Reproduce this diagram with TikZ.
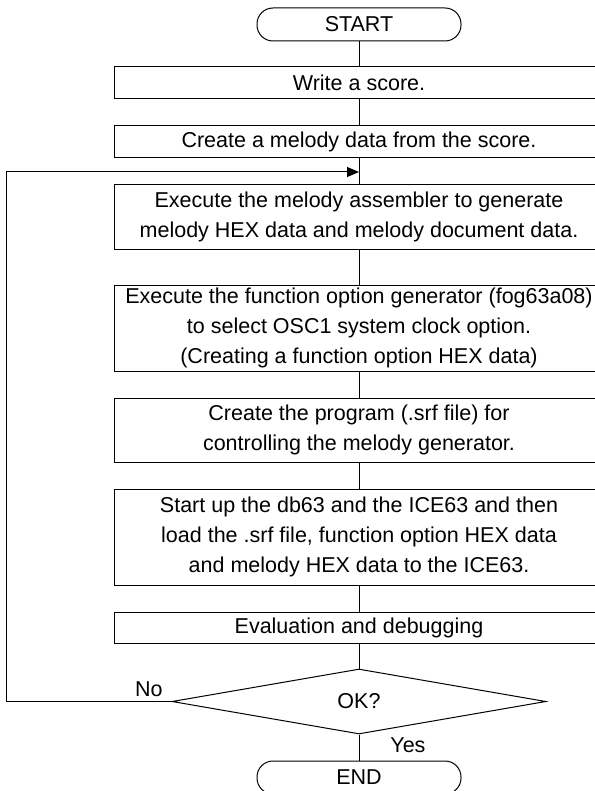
\documentclass[tikz,border=0pt]{standalone}
\usepackage{fontspec}
\setmainfont{Liberation Sans}
\usetikzlibrary{shapes.geometric,arrows.meta}

\begin{document}
\begin{tikzpicture}[x=0.5pt,y=-0.5pt,
  every node/.style={font=\fontsize{10.75}{15}\selectfont, align=center, inner sep=0pt},
  terminal/.style={draw, line width=0.5pt, rounded corners=8pt, minimum width=102pt, minimum height=16.5pt},
  process/.style={draw, line width=0.5pt, minimum width=245pt},
  decision/.style={draw, line width=0.5pt, diamond, aspect=5.75, minimum width=187pt, minimum height=32.5pt},
  flow/.style={line width=0.5pt},
  loopback/.style={line width=0.5pt, -{Triangle[length=6pt,width=5pt]}}]

  \useasboundingbox (0,0) rectangle (594,791);

  \node[terminal] (start) at (359,24.5) {START};
  \node[process, minimum height=16pt] (write) at (359,83) {Write a score.};
  \node[process, minimum height=16pt] (create) at (359,142) {Create a melody data from the score.};
  \node[process, minimum height=32pt] (asm) at (359,217) {Execute the melody assembler to generate\\melody HEX data and melody document data.};
  \node[process, minimum height=43pt] (fog) at (359,328) {Execute the function option generator (fog63a08)\\to select OSC1 system clock option.\\(Creating a function option HEX data)};
  \node[process, minimum height=32pt] (prog) at (359,430) {Create the program (.srf file) for\\controlling the melody generator.};
  \node[process, minimum height=48pt] (ice) at (359,537) {Start up the db63 and the ICE63 and then\\load the .srf file, function option HEX data\\and melody HEX data to the ICE63.};
  \node[process, minimum height=15.5pt] (debug) at (359,627.5) {Evaluation and debugging};
  \node[decision] (check) at (359,701.5) {OK?};
  \node[terminal] (end) at (359,777.5) {END};

  \coordinate (merge) at (359,172);

  \draw[flow] (start) -- (write);
  \draw[flow] (write) -- (create);
  \draw[flow] (create) -- (asm);
  \draw[flow] (asm) -- (fog);
  \draw[flow] (fog) -- (prog);
  \draw[flow] (prog) -- (ice);
  \draw[flow] (ice) -- (debug);
  \draw[flow] (debug) -- (check);
  \draw[flow] (check) -- (end);

%  No: back to the assembler
  \draw[loopback] (check.west) -- ++(-165,0) |- (merge);

  \node[anchor=south east] (no) at (163,697) {No};
  \node[anchor=west] (yes) at (390,745) {Yes};

\end{tikzpicture}
\end{document}
